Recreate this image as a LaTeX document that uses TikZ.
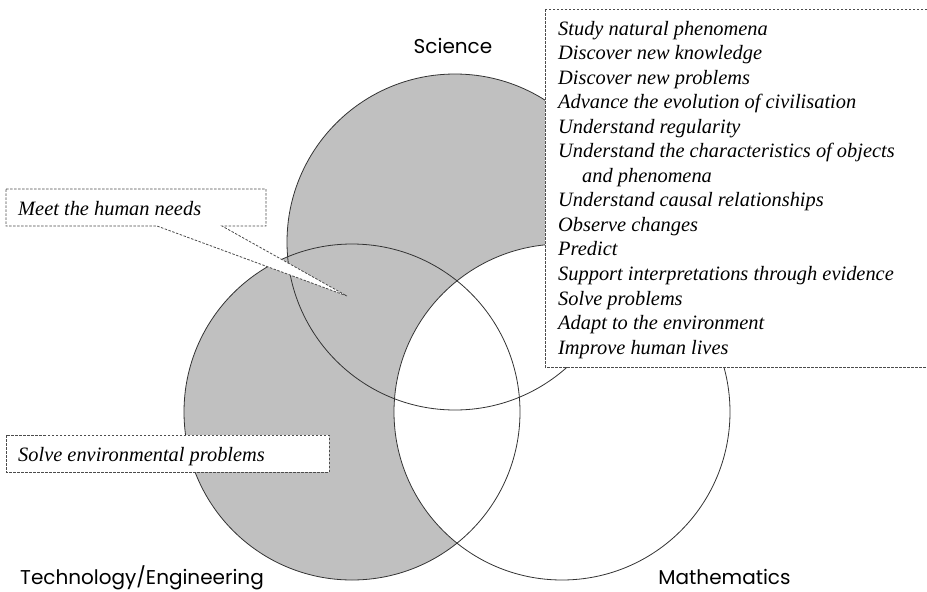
\documentclass[tikz,border=0pt]{standalone}
\usepackage{fontspec}
\setmainfont{Liberation Serif}
\newfontfamily\labelfont{Poppins}
\begin{document}
\begin{tikzpicture}[x=1pt,y=-1pt,
  circ/.style={draw=black!80,line width=0.8pt},
  callout/.style={draw=black!70,dashed,dash pattern=on 2.5pt off 1.5pt,line width=0.8pt,fill=white},
  itext/.style={font=\fontsize{20.4}{24}\selectfont\itshape,anchor=base west,inner sep=0pt},
  slabel/.style={font=\labelfont\fontsize{20}{24}\selectfont,anchor=base,inner sep=0pt}]
\useasboundingbox (0,0) rectangle (927,592);
\definecolor{vgray}{RGB}{192,192,192}
% circle centres
\coordinate (S) at (455,242);
\coordinate (T) at (352,412);
\coordinate (M) at (562,412);
% fills
\fill[vgray] (S) circle[radius=168];
\fill[vgray] (T) circle[radius=168];
\fill[white] (M) circle[radius=168];
% outlines
\draw[circ] (S) circle[radius=168];
\draw[circ] (T) circle[radius=168];
\draw[circ] (M) circle[radius=168];
% callout: meet the human needs
\coordinate (m1) at (6,189);
\coordinate (m2) at (266,189);
\coordinate (m3) at (266,226);
\coordinate (m4) at (222,226);
\coordinate (mtip) at (347,296);
\coordinate (m5) at (157,226);
\coordinate (m6) at (6,226);
\draw[callout] (m1) -- (m2) -- (m3) -- (m4) -- (mtip) -- (m5) -- (m6) -- cycle;
\node[itext] (meet) at (18,215) {Meet the human needs};
% box: solve environmental problems
\coordinate (s1) at (6,435);
\coordinate (s2) at (329,472);
\draw[callout] (s1) rectangle (s2);
\node[itext] (solve) at (18,461) {Solve environmental problems};
% big box
\coordinate (b1) at (545,9);
\coordinate (b2) at (940,367);
\draw[callout] (b1) rectangle (b2);
\foreach \t [count=\i] in {Study natural phenomena,Discover new knowledge,Discover new problems,Advance the evolution of civilisation,Understand regularity,Understand the characteristics of objects,\hspace*{24pt}and phenomena,Understand causal relationships,Observe changes,Predict,Support interpretations through evidence,Solve problems,Adapt to the environment,Improve human lives}
  \node[itext] (line\i) at (558,{35+(\i-1)*24.55}) {\t};
% labels
\node[slabel] (sci) at (453,53) {Science};
\node[slabel] (tech) at (142,584.5) {Technology/Engineering};
\node[slabel] (math) at (724.5,584.5) {Mathematics};
\end{tikzpicture}
\end{document}
